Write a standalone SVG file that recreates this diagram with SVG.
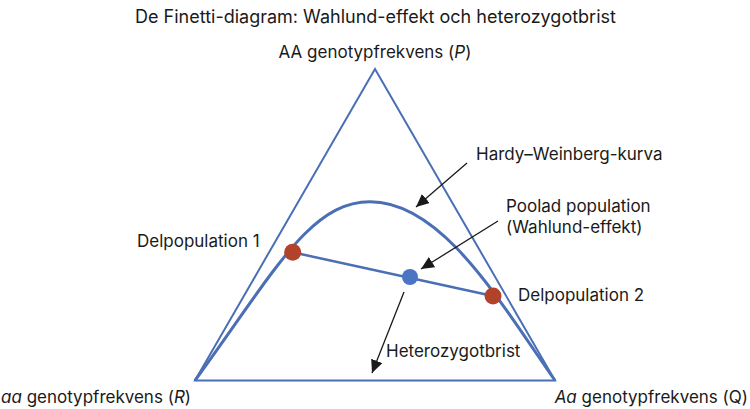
<svg xmlns="http://www.w3.org/2000/svg" width="750" height="409" viewBox="0 0 750 409">
  <style>
    text { font-family: Inter, Lato, "Liberation Sans", sans-serif; fill: #1a1a1a; font-variant-ligatures: none; }
    .title { font-size: 18px; }
    .lbl { font-size: 17px; }
    .tri { fill: none; stroke: #4a6fb5; stroke-width: 2; stroke-linejoin: miter; }
    .hw { fill: none; stroke: #4a6fb5; stroke-width: 3; }
    .tie { fill: none; stroke: #4a6fb5; stroke-width: 2.5; }
    .arr { fill: none; stroke: #1a1a1a; stroke-width: 1.3; }
    .red { fill: #b1432b; }
    .blue { fill: #4a74c4; }
  </style>
  <defs>
    <marker id="ah" markerUnits="userSpaceOnUse" markerWidth="14" markerHeight="12" viewBox="0 0 14 12" refX="13" refY="6" orient="auto">
      <path d="M0,0 L13,6 L0,12 Z" fill="#1a1a1a"/>
    </marker>
  </defs>

  <text class="title" x="375.5" y="23" text-anchor="middle">De Finetti-diagram: Wahlund-effekt och heterozygotbrist</text>

  <g id="triangle">
    <path class="tri" d="M375,69 L555,380.5 L195,380.5 Z"/>
  </g>

  <g id="hw-curve">
    <path class="hw" d="M195,380.5 C275,270.9 310,201.7 370,201.7 C442,201.7 499,300.5 555,380.5"/>
  </g>

  <g id="connectors">
    <line class="tie" x1="292.7" y1="252.3" x2="493" y2="296"/>
    <line class="arr" x1="467" y1="163" x2="416" y2="207" marker-end="url(#ah)"/>
    <line class="arr" x1="498" y1="221" x2="421" y2="269" marker-end="url(#ah)"/>
    <line class="arr" x1="404" y1="292" x2="372" y2="373" marker-end="url(#ah)"/>
  </g>

  <g id="sub1">
    <circle class="red" cx="292.7" cy="252.3" r="8.5"/>
    <text class="lbl" x="137" y="247">Delpopulation 1</text>
  </g>
  <g id="sub2">
    <circle class="red" cx="493" cy="296" r="8.5"/>
    <text class="lbl" x="518" y="301">Delpopulation 2</text>
  </g>
  <g id="pooled">
    <circle class="blue" cx="410" cy="277" r="8"/>
    <text class="lbl" x="506" y="212">Poolad population</text>
    <text class="lbl" x="506" y="233">(Wahlund-effekt)</text>
  </g>
  <g id="hw-label">
    <text class="lbl" x="476" y="160">Hardy–Weinberg-kurva</text>
  </g>
  <g id="het-label">
    <text class="lbl" x="386" y="357">Heterozygotbrist</text>
  </g>

  <g id="axis-labels">
    <text class="lbl" x="375" y="58" text-anchor="middle">AA genotypfrekvens (<tspan font-style="italic">P</tspan>)</text>
    <text class="lbl" x="1" y="403"><tspan font-style="italic">aa</tspan> genotypfrekvens (<tspan font-style="italic">R</tspan>)</text>
    <text class="lbl" x="748" y="403" text-anchor="end"><tspan font-style="italic">Aa</tspan> genotypfrekvens (Q)</text>
  </g>
</svg>
